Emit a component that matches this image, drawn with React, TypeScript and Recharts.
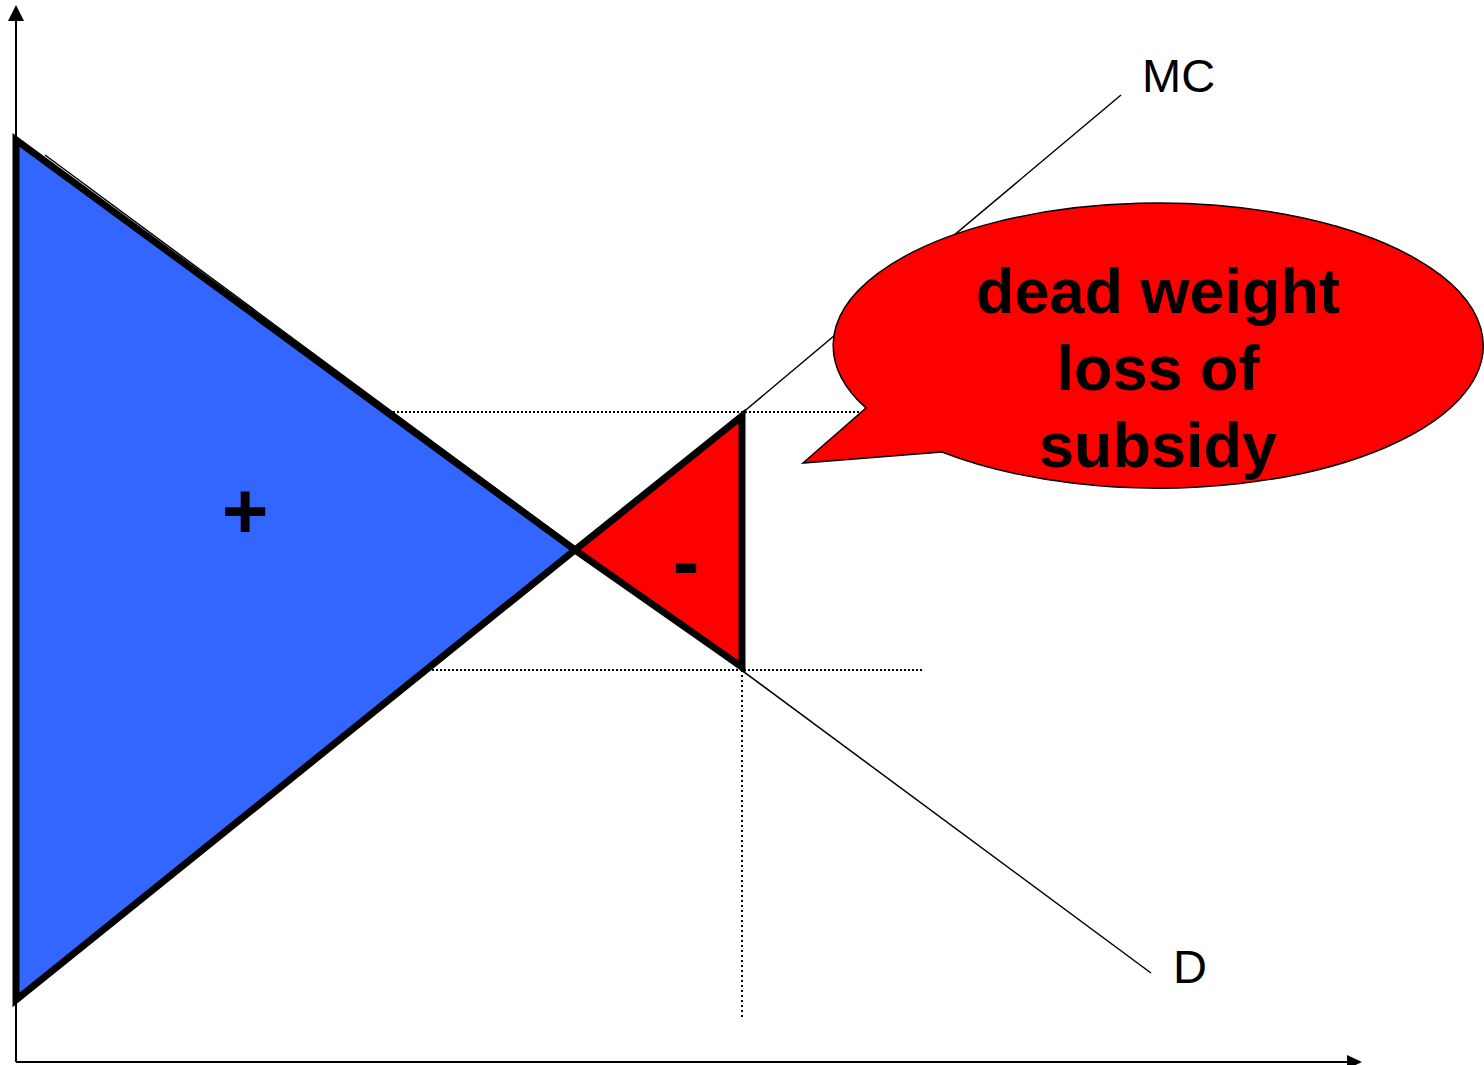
import { ComposedChart, Line, Area, XAxis, YAxis, ReferenceLine, ReferenceDot } from 'recharts';

// quantity (q) and price (p) in chart units
const mcCurve = [
  { q: 0, p: 6.2 },
  { q: 72.5, p: 64.8 },
  { q: 110.5, p: 96.7 },
];
const demandCurve = [
  { q: 2.9, p: 90.7 },
  { q: 113.5, p: 8.9 },
];
const surplusTriangle = [
  { q: 0, p: 92.2 },
  { q: 55.9, p: 51.2 },
  { q: 0, p: 6.2 },
];
const lossTriangle = [
  { q: 55.9, p: 51.2 },
  { q: 72.6, p: 64.6 },
  { q: 72.6, p: 39.5 },
];
const surplusArea = [
  { q: 0, range: [6.2, 92.2] },
  { q: 55.9, range: [51.2, 51.2] },
];
const lossArea = [
  { q: 55.9, range: [51.2, 51.2] },
  { q: 72.6, range: [39.5, 64.6] },
];
const upperPriceGuide = [
  { q: 37.3, p: 65.0 },
  { q: 86, p: 65.0 },
];
const lowerPriceGuide = [
  { q: 41.2, p: 39.2 },
  { q: 90.7, p: 39.2 },
];
const quantityGuide = [
  { q: 72.6, p: 39.2 },
  { q: 72.6, p: 4.2 },
];
const axisEnds = { q: 134.6, p: 105.7 };
const curveLabels = [
  { text: 'MC', q: 112.6, p: 97.0 },
  { text: 'D', q: 115.7, p: 7.9 },
];
const signLabels = [
  { text: '+', q: 22.9, p: 52.4 },
  { text: '-', q: 67.0, p: 47.3 },
];
const bubbleCenter = { q: 114.2, p: 71.65 };
const bubbleLines = ['dead weight', 'loss of', 'subsidy'];

const FONT = '"Liberation Sans", Arial, sans-serif';
const BLUE = '#3366ff';
const RED = '#ff0000';

const closeOutline = (pts: { q: number; p: number }[]) => [...pts, pts[0], pts[1]];

function Bubble(props: any) {
  const { cx, cy } = props;
  const rx = 325;
  const ry = 142.5;
  const tip = `${cx - 355} ${cy + 117.5}`;
  const upper = `${cx - 292} ${cy + 62.5}`;
  const lower = `${cx - 216} ${cy + 106.5}`;
  return (
    <g>
      <path
        d={`M ${tip} L ${upper} A ${rx} ${ry} 0 1 1 ${lower} Z`}
        fill={RED}
        stroke="#000"
        strokeWidth={1.5}
      />
      {bubbleLines.map((line, i) => (
        <text
          key={line}
          x={cx}
          y={cy - 33 + i * 77}
          textAnchor="middle"
          fontFamily={FONT}
          fontWeight="bold"
          fontSize={63}
          fill="#000"
        >
          {line}
        </text>
      ))}
    </g>
  );
}

export default function App() {
  return (
    <div style={{ position: 'absolute', left: 0, top: 0, background: '#fff' }}>
      <ComposedChart width={1484} height={1065} margin={{ top: 0, right: 0, bottom: 0, left: 0 }}>
        <XAxis type="number" dataKey="q" domain={[-1.6, 146.8]} hide />
        <YAxis type="number" domain={[-0.3, 106.2]} hide />

        <ReferenceLine segment={[{ x: 0, y: 0 }, { x: axisEnds.q - 1, y: 0 }]} stroke="#000" strokeWidth={2} />
        <ReferenceLine segment={[{ x: 0, y: 0 }, { x: 0, y: axisEnds.p - 1 }]} stroke="#000" strokeWidth={2} />
        <ReferenceDot
          x={0}
          y={axisEnds.p}
          r={0}
          shape={(p: any) => <path d={`M ${p.cx} ${p.cy} L ${p.cx - 8} ${p.cy + 16} L ${p.cx + 8} ${p.cy + 16} Z`} fill="#000" />}
        />
        <ReferenceDot
          x={axisEnds.q}
          y={0}
          r={0}
          shape={(p: any) => <path d={`M ${p.cx} ${p.cy} L ${p.cx - 15} ${p.cy - 7} L ${p.cx - 15} ${p.cy + 7} Z`} fill="#000" />}
        />

        {[upperPriceGuide, lowerPriceGuide].map((guide, i) => (
          <Line
            key={i}
            data={guide}
            dataKey="p"
            stroke="#000"
            strokeWidth={2}
            strokeDasharray="2 2"
            dot={false}
            activeDot={false}
            isAnimationActive={false}
          />
        ))}
        <Line
          data={quantityGuide}
          dataKey="p"
          stroke="#000"
          strokeWidth={2}
          strokeDasharray="2 3"
          dot={false}
          activeDot={false}
          isAnimationActive={false}
        />

        <Line data={mcCurve} dataKey="p" stroke="#000" strokeWidth={1.5} dot={false} activeDot={false} isAnimationActive={false} />
        <Line data={demandCurve} dataKey="p" stroke="#000" strokeWidth={1.5} dot={false} activeDot={false} isAnimationActive={false} />

        <Area data={surplusArea} dataKey="range" type="linear" fill={BLUE} fillOpacity={1} stroke="none" dot={false} activeDot={false} isAnimationActive={false} />
        <Area data={lossArea} dataKey="range" type="linear" fill={RED} fillOpacity={1} stroke="none" dot={false} activeDot={false} isAnimationActive={false} />

        <Line data={closeOutline(surplusTriangle)} dataKey="p" stroke="#000" strokeWidth={7} strokeLinejoin="miter" dot={false} activeDot={false} isAnimationActive={false} />
        <Line data={closeOutline(lossTriangle)} dataKey="p" stroke="#000" strokeWidth={7} strokeLinejoin="miter" dot={false} activeDot={false} isAnimationActive={false} />

        <ReferenceDot x={bubbleCenter.q} y={bubbleCenter.p} r={0} ifOverflow="visible" shape={(p: any) => <Bubble {...p} />} />

        {curveLabels.map((l) => (
          <ReferenceDot
            key={l.text}
            x={l.q}
            y={l.p}
            r={0}
            shape={(p: any) => (
              <text x={p.cx} y={p.cy} fontFamily={FONT} fontSize={47} fill="#000">
                {l.text}
              </text>
            )}
          />
        ))}
        {signLabels.map((l) => (
          <ReferenceDot
            key={l.text}
            x={l.q}
            y={l.p}
            r={0}
            shape={(p: any) => (
              <text x={p.cx} y={p.cy} textAnchor="middle" fontFamily={FONT} fontWeight="bold" fontSize={80} fill="#000">
                {l.text}
              </text>
            )}
          />
        ))}
      </ComposedChart>
    </div>
  );
}
